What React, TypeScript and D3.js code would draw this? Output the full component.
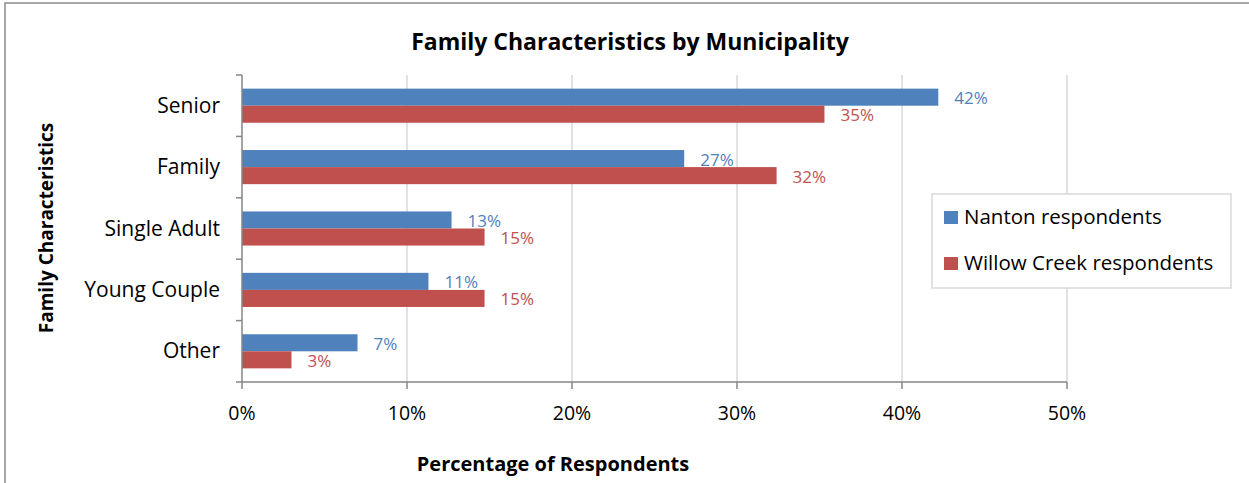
import React from 'react';
import * as d3 from 'd3';

const categories = ['Senior', 'Family', 'Single Adult', 'Young Couple', 'Other'];
const seriesNames = ['Nanton respondents', 'Willow Creek respondents'];
const nantonValues = [42.2, 26.8, 12.7, 11.3, 7.0];
const willowValues = [35.3, 32.4, 14.7, 14.7, 3.0];
const labelNanton = ['42%', '27%', '13%', '11%', '7%'];
const labelWillow = ['35%', '32%', '15%', '15%', '3%'];
const xTicks = [0, 10, 20, 30, 40, 50];

const colors = ['#4F81BD', '#C0504D'];
const font = '"Open Sans", Carlito, Calibri, sans-serif';

export default function App() {
  const width = 1249;
  const height = 483;
  const left = 242;
  const right = 1067;
  const top = 75;
  const bottom = 382;

  const x = d3.scaleLinear().domain([0, 50]).range([left, right]);
  const y = d3.scaleBand<string>().domain(categories).range([top, bottom]).padding(0);
  const inner = d3.scaleBand<string>()
    .domain(seriesNames)
    .range([0, y.step()])
    .paddingInner(0)
    .paddingOuter(0.8);

  const series = [
    { name: seriesNames[0], values: nantonValues, labels: labelNanton, color: colors[0] },
    { name: seriesNames[1], values: willowValues, labels: labelWillow, color: colors[1] },
  ];

  const boundaries = d3.range(categories.length + 1).map(i => top + i * y.step());

  return (
    <svg
      width={width}
      height={height}
      style={{ position: 'absolute', left: 0, top: 0, background: '#fff' }}
      fontFamily={font}
    >
      {/* outer chart border */}
      <rect x={5} y={3} width={1260} height={500} fill="#fff" stroke="#8c8c8c" strokeWidth={1.5} />

      <text x={630} y={50} textAnchor="middle" fontSize={23} fontWeight={700} fill="#000">
        Family Characteristics by Municipality
      </text>

      {/* gridlines */}
      {xTicks.slice(1).map(t => (
        <line key={'g' + t} x1={x(t)} x2={x(t)} y1={top} y2={bottom} stroke="#d9d9d9" strokeWidth={1.5} />
      ))}

      {/* bars */}
      {series.map(s =>
        categories.map((c, i) => (
          <rect
            key={s.name + c}
            x={x(0)}
            y={(y(c) ?? 0) + (inner(s.name) ?? 0)}
            width={x(s.values[i]) - x(0)}
            height={inner.bandwidth()}
            fill={s.color}
          />
        ))
      )}

      {/* data labels */}
      {series.map(s =>
        categories.map((c, i) => (
          <text
            key={'l' + s.name + c}
            x={x(s.values[i]) + 16}
            y={(y(c) ?? 0) + (inner(s.name) ?? 0) + inner.bandwidth() / 2 + 7}
            fontSize={17}
            fill={s.color}
          >
            {s.labels[i]}
          </text>
        ))
      )}

      {/* y axis */}
      <line x1={left} x2={left} y1={top} y2={bottom} stroke="#868686" strokeWidth={1.5} />
      {boundaries.map((b, i) => (
        <line key={'yt' + i} x1={left - 6} x2={left} y1={b} y2={b} stroke="#868686" strokeWidth={1.5} />
      ))}
      {categories.map(c => (
        <text
          key={'yl' + c}
          x={220}
          y={(y(c) ?? 0) + y.bandwidth() / 2 + 7}
          textAnchor="end"
          fontSize={21}
          fill="#000"
        >
          {c}
        </text>
      ))}

      {/* x axis */}
      <line x1={left} x2={right} y1={bottom} y2={bottom} stroke="#868686" strokeWidth={1.5} />
      {xTicks.map(t => (
        <g key={'xt' + t}>
          <line x1={x(t)} x2={x(t)} y1={bottom} y2={bottom + 7} stroke="#868686" strokeWidth={1.5} />
          <text x={x(t)} y={420} textAnchor="middle" fontSize={19.5} fill="#000">
            {t + '%'}
          </text>
        </g>
      ))}

      <text x={553} y={471} textAnchor="middle" fontSize={20} fontWeight={700} fill="#000">
        Percentage of Respondents
      </text>
      <text
        transform="translate(53,228) rotate(-90)"
        textAnchor="middle"
        fontSize={19}
        fontWeight={700}
        fill="#000"
      >
        Family Characteristics
      </text>

      {/* legend */}
      <rect x={932} y={194} width={299} height={94} fill="#fff" stroke="#d9d9d9" strokeWidth={1.5} />
      {series.map((s, i) => (
        <g key={'lg' + s.name} transform={`translate(944, ${211 + i * 46})`}>
          <rect x={0} y={0} width={14} height={13} fill={s.color} />
          <text x={20} y={13} fontSize={20.5} fill="#000">
            {s.name}
          </text>
        </g>
      ))}
    </svg>
  );
}
